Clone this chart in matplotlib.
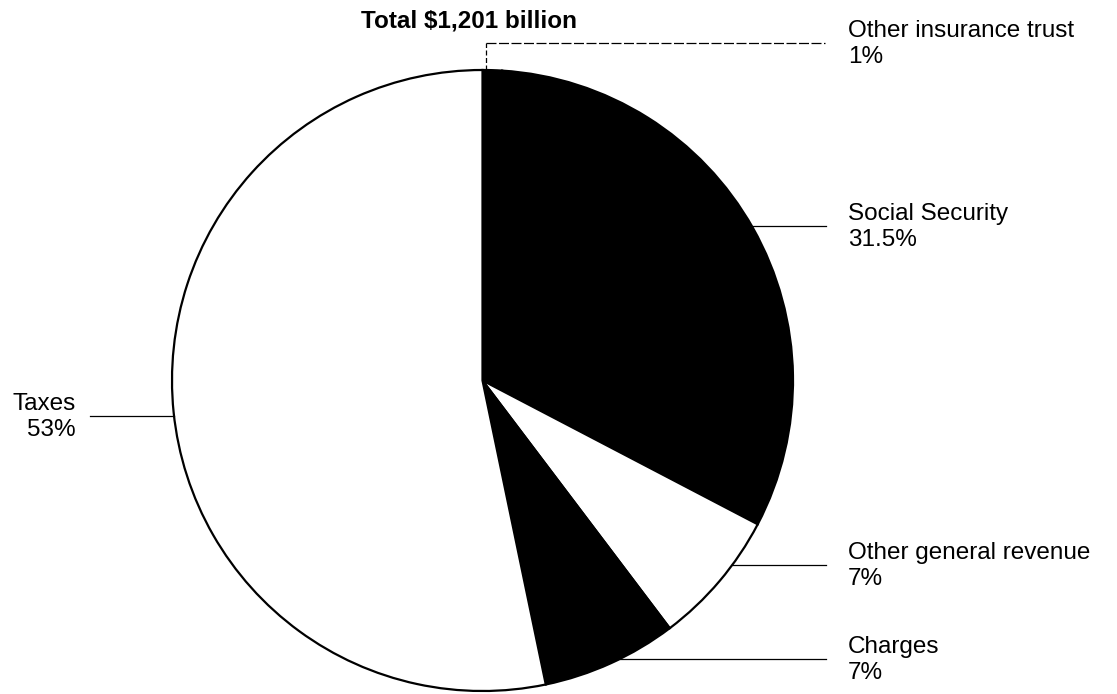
import numpy as np
import matplotlib
matplotlib.use("Agg")
import matplotlib.pyplot as plt

plt.rcParams['font.family'] = ['Liberation Sans', 'DejaVu Sans']

# revenue shares, clockwise from twelve o'clock
labels = ["Other insurance trust", "Social Security", "Other general revenue", "Charges", "Taxes"]
shares = [1.0, 31.5, 7.0, 7.0, 53.0]
pct_text = ["1%", "31.5%", "7%", "7%", "53%"]
colors = ["black", "black", "white", "black", "white"]
title = "Total $1,201 billion"

W, H = 1117, 694
fig = plt.figure(figsize=(W / 100, H / 100), dpi=100)
ax = fig.add_axes([0, 0, 1, 1])

cx, cy, r = 482.5, 380.5, 310.5
# y axis runs downward, so -90 is the top and counterclock turns clockwise on screen
ax.pie(shares, colors=colors, startangle=-90, counterclock=True,
       center=(cx, cy), radius=r, frame=True,
       wedgeprops=dict(edgecolor='black', linewidth=1.6))
ax.set_xlim(0, W)
ax.set_ylim(H, 0)
ax.set_aspect('equal')
ax.axis('off')

def edge_x(y, side):
    return cx + side * np.sqrt(r ** 2 - (y - cy) ** 2)

lw = 0.9
# label rows: (leader y, text x, side)
rows = [
    (43, 848, 1),
    (226, 848, 1),
    (565, 848, 1),
    (659, 848, 1),
    (416, 76, -1),
]
for i, (ly, tx, side) in enumerate(rows):
    txt = f"{labels[i]}\n{pct_text[i]}"
    if i == 0:
        # top slice: drop a line from the rim, then run right
        x0 = cx + 3
        ax.plot([x0, x0], [cy - r, ly], color='black', lw=lw, ls=(0, (4, 2)))
        ax.plot([x0, 825], [ly, ly], color='black', lw=lw, ls=(0, (8, 2)))
    elif side > 0:
        ax.plot([edge_x(ly, 1), 826], [ly, ly], color='black', lw=lw)
    else:
        ax.plot([edge_x(ly, -1), 90], [ly, ly], color='black', lw=lw)
    ha = 'left' if side > 0 else 'right'
    ax.text(tx, ly + 1, txt, ha=ha, va='center', multialignment=ha,
            fontsize=17.5, linespacing=1.2, color='black')

ax.text(469, 27, title, ha='center', va='baseline', fontsize=17.5, fontweight='bold')

fig.savefig("out.png", dpi=100)
